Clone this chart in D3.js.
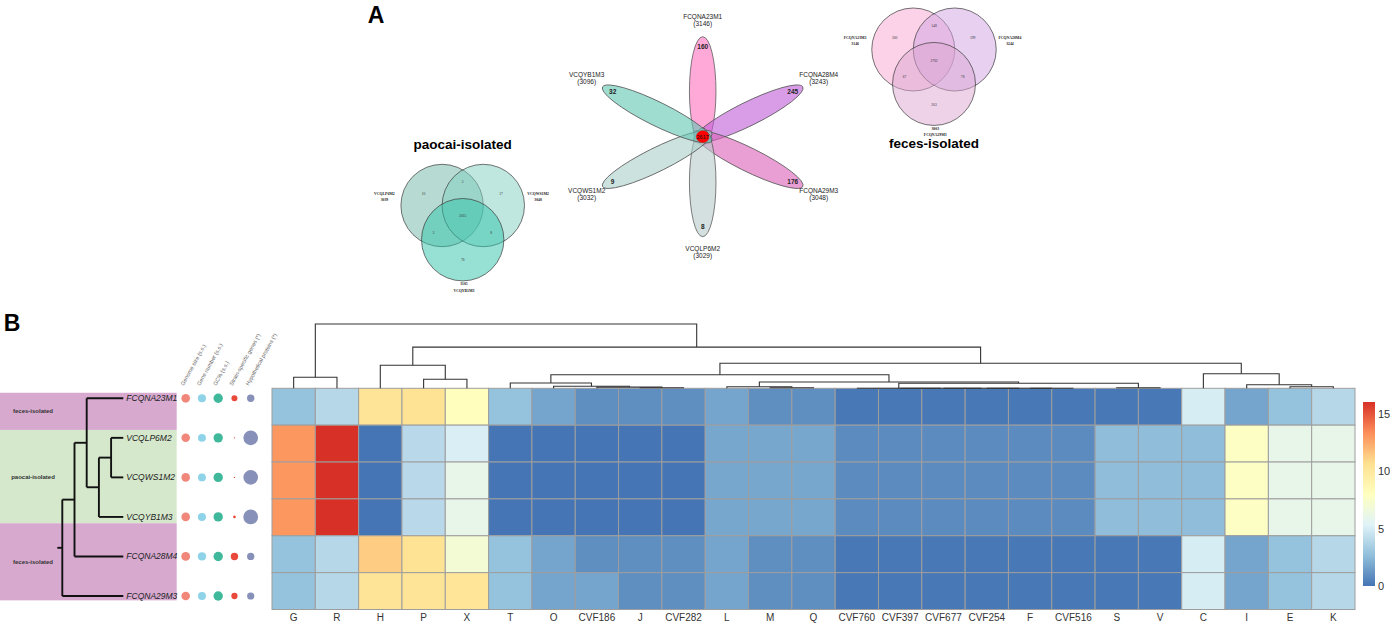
<!DOCTYPE html>
<html>
<head>
<meta charset="utf-8">
<script src="https://cdn.jsdelivr.net/npm/d3@7"></script>
<style>
  body { margin: 0; background: #fff; }
  svg { display: block; font-family: "Liberation Sans", Arial, sans-serif; }
</style>
</head>
<body>
<svg id="chart" width="1390" height="624"></svg>
<script>
// ---------- data ----------
const strains = ["FCQNA23M1", "VCQLP6M2", "VCQWS1M2", "VCQYB1M3", "FCQNA28M4", "FCQNA29M3"];
const features = ["G","R","H","P","X","T","O","CVF186","J","CVF282","L","M","Q",
  "CVF760","CVF397","CVF677","CVF254","F","CVF516","S","V","C","I","E","K"];

// one row per strain, one value per feature
const heatFCQNA23M1 = [2.8,3.9,10.3,10.4,8.1,2.8,1.7,0.9,0.9,0.9,1.7,0.9,0.9,0.1,0.1,0.1,0.1,0.1,0.1,0.1,0.1,5.0,1.7,2.8,3.9];
const heatVCQLP6M2  = [13.0,16.0,0,4.0,5.1,0,0,0,0,0,1.8,1.8,1.8,0.8,0.8,0.8,0.8,0.8,0.8,2.6,2.6,2.6,7.8,6.0,6.0];
const heatVCQWS1M2  = [13.0,16.0,0,4.0,6.0,0,0,0,0,0,1.8,1.8,1.8,0.8,0.8,0.8,0.8,0.8,0.8,2.6,2.6,2.6,7.8,6.0,6.0];
const heatVCQYB1M3  = [13.0,16.0,0,4.0,6.0,0,0,0,0,0,1.8,1.8,1.8,0.8,0.8,0.8,0.8,0.8,0.8,2.6,2.6,2.6,7.8,6.0,6.0];
const heatFCQNA28M4 = [2.8,3.9,11.3,10.4,7.0,2.8,1.7,0.9,0.9,0.9,1.7,0.9,0.9,0.1,0.1,0.1,0.1,0.1,0.1,0.1,0.1,5.0,1.7,2.8,3.9];
const heatFCQNA29M3 = [2.8,3.9,10.3,10.3,10.2,2.8,1.7,1.7,0.9,0.9,1.7,0.9,0.9,0.1,0.1,0.1,0.1,0.1,0.1,0.1,0.1,5.0,1.7,2.8,3.9];
const heatRows = [heatFCQNA23M1, heatVCQLP6M2, heatVCQWS1M2, heatVCQYB1M3, heatFCQNA28M4, heatFCQNA29M3];
const legendTicks = [0, 5, 10, 15];

// column clustering: [node, left, right, height]
const colMerges = [
  ["n0","J","CVF282",0.5], ["n1","CVF186","n0",1.2], ["n2","O","n1",2], ["n3","T","n2",5.3],
  ["n4","M","Q",0.5], ["n5","L","n4",1.5],
  ["n6","F","CVF516",0], ["n7","CVF254","n6",0], ["n8","CVF677","n7",0], ["n9","CVF397","n8",0], ["n10","CVF760","n9",0],
  ["n11","S","V",0.5], ["n12","n10","n11",5], ["n13","n5","n12",6.3], ["n14","n3","n13",13.5],
  ["n15","E","K",1.5], ["n16","I","n15",3.6], ["n17","C","n16",14.5], ["n18","n14","n17",25],
  ["n19","P","X",9], ["n20","H","n19",23], ["n21","n20","n18",41],
  ["n22","G","R",11], ["n23","n22","n21",64]
];
// strain tree (cladogram)
const rowMerges = [
  ["r0","VCQLP6M2","VCQWS1M2"], ["r1","r0","VCQYB1M3"], ["r2","FCQNA23M1","r1"],
  ["r3","r2","FCQNA28M4"], ["r4","r3","FCQNA29M3"]
];
// source groups, in tip units
const groupLabels = ["feces-isolated", "paocai-isolated", "feces-isolated"];
const groupFrom = [-0.14, 0.8, 3.16];
const groupTo = [0.8, 3.16, 5.11];

// genome traits shown as dots
const traits = ["Genome size (s.s.)", "Gene number (s.s.)", "GC% (s.s.)", "Strain-specific genes (*)", "Hypothetical proteins (*)"];
const genomeSize = [2.95, 2.87, 2.88, 2.93, 3.03, 2.90];
const geneNumber = [3146, 3029, 3032, 3096, 3243, 3048];
const gcContent = [37.2, 36.9, 36.9, 37.0, 37.5, 37.5];
const specificGenes = [160, 8, 9, 32, 245, 176];
const hypothetical = [420, 1650, 1630, 1680, 410, 400];
const traitValues = [genomeSize, geneNumber, gcContent, specificGenes, hypothetical];

// flower plot
const flowerNames = ["FCQNA23M1", "FCQNA28M4", "FCQNA29M3", "VCQLP6M2", "VCQWS1M2", "VCQYB1M3"];
const flowerTotals = [3146, 3243, 3048, 3029, 3032, 3096];
const flowerUnique = [160, 245, 176, 8, 9, 32];
const flowerCore = 2617;

// three-set venns: regions a, b, c, ab, ac, bc, abc
const paocaiNames = ["VCQLP6M2", "VCQWS1M2", "VCQYB1M3"];
const paocaiTotals = [3039, 3048, 3105];
const paocaiRegions = [10, 17, 76, 5, 3, 8, 3015];
const fecesNames = ["FCQNA23M1", "FCQNA28M4", "FCQNA29M3"];
const fecesTotals = [3146, 3244, 3003];
const fecesRegions = [300, 199, 203, 148, 67, 78, 2702];

// ---------- drawing ----------
const svg = d3.select("#chart");

svg.append("text").attr("x", 376).attr("y", 23).attr("text-anchor", "middle")
  .attr("font-size", 23).attr("font-weight", "bold").text("A");
svg.append("text").attr("x", 12).attr("y", 331).attr("text-anchor", "middle")
  .attr("font-size", 23).attr("font-weight", "bold").text("B");

// venn helper
function drawVenn(cx, cy, r, names, totals, regions, fills, title, titleY) {
  const g = svg.append("g").attr("transform", `translate(${cx},${cy})`);
  const half = r * 0.5, drop = r * 0.83;
  const centres = [[-half, 0], [half, 0], [0, drop]];
  g.selectAll("circle").data(centres).join("circle")
    .attr("cx", d => d[0]).attr("cy", d => d[1]).attr("r", r)
    .attr("fill", (d, i) => fills[i]).attr("fill-opacity", 0.5)
    .attr("stroke", "#3a3a3a").attr("stroke-width", 0.7);
  const spots = [[-0.95,-0.28],[0.93,-0.28],[0,1.32],[0,-0.57],[-0.71,0.66],[0.69,0.66],[0,0.26]];
  g.selectAll("text.reg").data(regions).join("text").attr("class", "reg")
    .attr("x", (d, i) => spots[i][0] * r).attr("y", (d, i) => spots[i][1] * r)
    .attr("dy", "0.35em").attr("text-anchor", "middle")
    .attr("font-family", "Liberation Serif, serif").attr("font-size", 3.6).attr("fill", "#333")
    .text(d => d);
  const lab = [[-1.9, -0.26, 0], [1.83, -0.26, 0], [0.03, 1.93, 1]];
  names.forEach((n, i) => {
    const lines = lab[i][2] ? [totals[i], n] : [n, totals[i]];
    lines.forEach((t, k) => g.append("text")
      .attr("x", lab[i][0] * r).attr("y", lab[i][1] * r + k * 6.5)
      .attr("text-anchor", "middle").attr("font-family", "Liberation Serif, serif")
      .attr("font-weight", "bold").attr("font-size", 3.8).attr("fill", "#222").text(t));
  });
  svg.append("text").attr("x", cx).attr("y", titleY).attr("text-anchor", "middle")
    .attr("font-size", 13.5).attr("font-weight", "bold").text(title);
}
drawVenn(462.7, 205.5, 41.2, paocaiNames, paocaiTotals, paocaiRegions,
  ["#6FB8A6", "#7FD0C2", "#2FC4AA"], "paocai-isolated", 149);
drawVenn(934, 49.5, 41.5, fecesNames, fecesTotals, fecesRegions,
  ["#F7A6CF", "#CFA2E2", "#DBA5D2"], "feces-isolated", 148);

// flower
const fcx = 702.7, fcy = 136.7, stretch = 1.155;
const petalFill = ["#FF70BF", "#BF5CD8", "#DB5FB8", "#B8CCCA", "#AACFC9", "#5FC7B3"];
const angle = i => 90 - 60 * i;
const polar = (rad, a) => [fcx + stretch * rad * Math.cos(a * Math.PI / 180), fcy - rad * Math.sin(a * Math.PI / 180)];
const petals = svg.append("g").attr("transform", `translate(${fcx},${fcy}) scale(${stretch},1)`);
petals.selectAll("ellipse").data(flowerNames).join("ellipse")
  .attr("transform", (d, i) => `rotate(${-angle(i)}) translate(45.5,0)`)
  .attr("rx", 54.5).attr("ry", 11.5)
  .attr("fill", (d, i) => petalFill[i]).attr("fill-opacity", 0.6)
  .attr("stroke", "#555").attr("stroke-width", 0.7);
svg.append("ellipse").attr("cx", fcx).attr("cy", fcy).attr("rx", 6.6).attr("ry", 6.1).attr("fill", "#FF0000");
svg.append("text").attr("x", fcx).attr("y", fcy).attr("dy", "0.35em").attr("text-anchor", "middle")
  .attr("font-size", 5.5).attr("fill", "#111").text(flowerCore);
flowerUnique.forEach((v, i) => {
  const p = polar(90, angle(i));
  svg.append("text").attr("x", p[0]).attr("y", p[1]).attr("dy", "0.35em").attr("text-anchor", "middle")
    .attr("font-size", 6.5).attr("font-weight", "bold").attr("fill", "#222").text(v);
});
flowerNames.forEach((n, i) => {
  const p = polar(116, angle(i));
  [n, "(" + flowerTotals[i] + ")"].forEach((t, k) => svg.append("text")
    .attr("x", p[0]).attr("y", p[1] - 1.5 + k * 6.5).attr("text-anchor", "middle")
    .attr("font-size", 6.5).attr("fill", "#222").text(t));
});

// ---------- panel B ----------
const x = d3.scaleBand().domain(features).range([272, 1355]);
const y = d3.scaleBand().domain(strains).range([388.3, 609.5]);
const maxVal = 16;
const palette = ["#4575B4", "#91BFDB", "#E0F3F8", "#FFFFBF", "#FEE090", "#FC8D59", "#D73027"];
const color = d3.scaleLinear().domain(palette.map((c, i) => i * maxVal / 6)).range(palette);

const cells = [];
heatRows.forEach((row, r) => row.forEach((v, c) => cells.push({ s: strains[r], f: features[c], v: v })));
svg.append("g").selectAll("rect").data(cells).join("rect")
  .attr("x", d => x(d.f)).attr("y", d => y(d.s))
  .attr("width", x.bandwidth()).attr("height", y.bandwidth())
  .attr("fill", d => color(d.v)).attr("stroke", "#9E9E9E").attr("stroke-width", 1);

const xAxis = svg.append("g").attr("transform", `translate(0,${y.range()[1]})`)
  .call(d3.axisBottom(x).tickSize(0).tickPadding(4));
xAxis.select(".domain").remove();
xAxis.selectAll("text").attr("font-size", 10).attr("fill", "#333")
  .attr("font-family", "Liberation Sans Narrow, Liberation Sans, Arial, sans-serif");

// column dendrogram
function buildTree(merges) {
  const nodes = {};
  let last;
  merges.forEach(([id, a, b, h]) => {
    const get = k => nodes[k] || { name: k, h: 0 };
    last = nodes[id] = { name: id, h: h || 0, children: [get(a), get(b)] };
  });
  return d3.hierarchy(last);
}
const colTree = buildTree(colMerges);
const hScale = d3.scaleLinear().domain([0, 64]).range([y.range()[0], 324]);
colTree.eachAfter(n => {
  n.px = n.children ? d3.mean(n.children, c => c.px) : x(n.data.name) + x.bandwidth() / 2;
  n.py = n.children ? hScale(n.data.h) : y.range()[0];
});
const dendro = svg.append("g").attr("fill", "none").attr("stroke", "#333").attr("stroke-width", 1.1);
colTree.descendants().filter(n => n.children).forEach(n => {
  dendro.append("path").attr("d",
    `M${n.children[0].px},${n.children[0].py}V${n.py}H${n.children[1].px}V${n.children[1].py}`);
});

// colour legend
const legY = d3.scaleLinear().domain([0, maxVal]).range([586, 402]);
const grad = svg.append("defs").append("linearGradient").attr("id", "heatGrad")
  .attr("x1", 0).attr("y1", 1).attr("x2", 0).attr("y2", 0);
grad.selectAll("stop").data(palette).join("stop")
  .attr("offset", (d, i) => i / 6).attr("stop-color", d => d);
svg.append("rect").attr("x", 1363).attr("y", 402).attr("width", 12).attr("height", 184)
  .attr("fill", "url(#heatGrad)");
const legAxis = svg.append("g").attr("transform", "translate(1375,0)")
  .call(d3.axisRight(legY).tickValues(legendTicks).tickSize(0).tickPadding(3));
legAxis.select(".domain").remove();
legAxis.selectAll("text").attr("font-size", 11).attr("fill", "#333");

// strain tree with group bands
const tipY = d3.scaleLinear().domain([0, strains.length - 1]).range([398.3, 596]);
const bandFill = { "feces-isolated": "#D7A9CF", "paocai-isolated": "#D5E8CC" };
groupLabels.forEach((lab, i) => {
  svg.append("rect").attr("x", 0).attr("width", 176.7)
    .attr("y", tipY(groupFrom[i])).attr("height", tipY(groupTo[i]) - tipY(groupFrom[i]))
    .attr("fill", bandFill[lab]);
  svg.append("text").attr("x", 33).attr("y", tipY((groupFrom[i] + groupTo[i]) / 2))
    .attr("dy", "0.35em").attr("text-anchor", "middle")
    .attr("font-size", 6).attr("font-weight", "bold").attr("fill", "#333").text(lab);
});
const rowTree = buildTree(rowMerges);
const depthX = d3.scaleLinear().domain([0, 5]).range([62.3, 123.3]);
rowTree.eachAfter(n => {
  n.px = n.children ? depthX(n.depth) : depthX(5);
  n.py = n.children ? d3.mean(n.children, c => c.py) : tipY(strains.indexOf(n.data.name));
});
const tree = svg.append("g").attr("fill", "none").attr("stroke", "#111").attr("stroke-width", 1.9);
rowTree.descendants().forEach(n => {
  if (n.children) {
    tree.append("path").attr("d", `M${n.px},${d3.min(n.children, c => c.py)}V${d3.max(n.children, c => c.py)}`);
    n.children.forEach(c => tree.append("path").attr("d", `M${n.px},${c.py}H${c.px}`));
  }
});
tree.append("path").attr("d", `M${depthX(0) - 5},${rowTree.py}H${depthX(0)}`);
svg.selectAll("text.tip").data(strains).join("text").attr("class", "tip")
  .attr("x", depthX(5) + 3).attr("y", (d, i) => tipY(i)).attr("dy", "0.35em")
  .attr("font-size", 8.5).attr("font-style", "italic").attr("fill", "#222").text(d => d);

// trait dots
const traitX = d3.scalePoint().domain(traits).range([185.7, 250.7]);
const traitColor = ["#F0877A", "#8ED3E8", "#3FB89B", "#E8493A", "#8790B8"];
const traitMaxR = [4.4, 4.1, 4.7, 3.7, 7.4];
traits.forEach((t, k) => {
  const rs = d3.scaleSqrt().domain([0, d3.max(traitValues[k])]).range([0, traitMaxR[k]]);
  svg.append("g").selectAll("circle").data(traitValues[k]).join("circle")
    .attr("cx", traitX(t)).attr("cy", (d, i) => tipY(i)).attr("r", d => rs(d))
    .attr("fill", traitColor[k]);
  svg.append("text").attr("transform", `translate(${traitX(t) - 2},386) rotate(-61)`)
    .attr("font-size", 5.5).attr("fill", "#666").text(t);
});
</script>
</body>
</html>
